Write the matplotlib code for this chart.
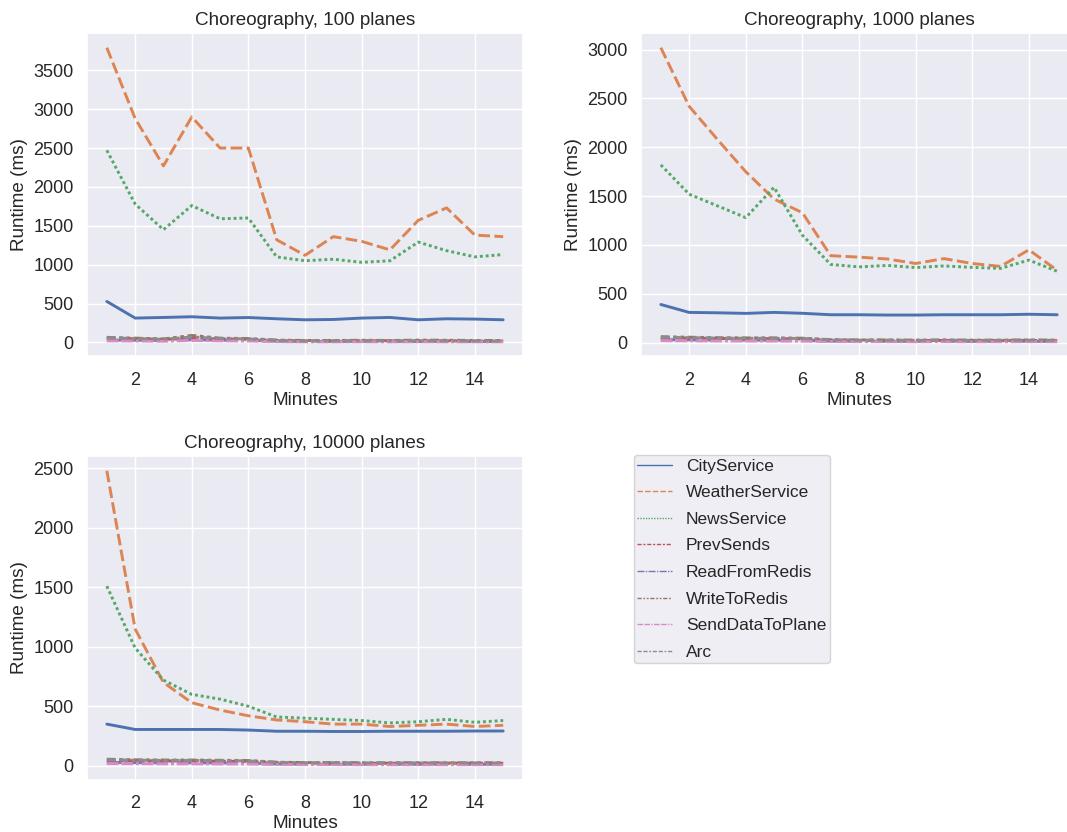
import matplotlib
matplotlib.use("Agg")
import matplotlib.pyplot as plt
from matplotlib.lines import Line2D
from matplotlib.ticker import MultipleLocator
import seaborn as sns

sns.set_theme(style="darkgrid")
plt.rcParams['font.family'] = ['Liberation Sans', 'DejaVu Sans']

minutes = list(range(1, 16))
series_names = ["CityService", "WeatherService", "NewsService", "PrevSends",
                "ReadFromRedis", "WriteToRedis", "SendDataToPlane", "Arc"]

titles = ["Choreography, 100 planes", "Choreography, 1000 planes",
          "Choreography, 10000 planes"]

# ---- 100 planes ----
p100_city = [527, 313, 321, 330, 313, 320, 304, 291, 295, 313, 321, 291, 304, 300, 291]
p100_weather = [3790, 2880, 2270, 2900, 2500, 2500, 1320, 1120, 1360, 1300, 1190, 1570, 1730, 1380, 1360]
p100_news = [2470, 1780, 1450, 1760, 1590, 1600, 1100, 1050, 1070, 1030, 1050, 1290, 1180, 1100, 1130]
p100_prev = [55, 45, 40, 50, 45, 40, 25, 20, 20, 20, 22, 20, 20, 18, 18]
p100_read = [30, 28, 25, 35, 30, 28, 15, 12, 12, 14, 12, 12, 12, 12, 12]
p100_write = [65, 55, 45, 90, 55, 50, 30, 25, 25, 28, 25, 30, 28, 25, 25]
p100_send = [20, 18, 15, 25, 20, 18, 10, 8, 8, 9, 8, 9, 8, 8, 8]
p100_arc = [60, 50, 40, 70, 50, 45, 25, 18, 20, 22, 20, 22, 20, 20, 18]

# ---- 1000 planes ----
p1000_city = [390, 309, 305, 299, 309, 300, 285, 285, 282, 282, 285, 285, 285, 290, 285]
p1000_weather = [3020, 2420, 2080, 1750, 1470, 1330, 890, 875, 856, 810, 860, 810, 780, 950, 740]
p1000_news = [1820, 1520, 1400, 1280, 1590, 1100, 800, 775, 790, 768, 785, 770, 760, 845, 730]
p1000_prev = [50, 45, 42, 40, 40, 38, 25, 22, 22, 20, 22, 20, 20, 22, 20]
p1000_read = [30, 28, 26, 25, 25, 24, 15, 13, 13, 12, 13, 12, 12, 13, 12]
p1000_write = [60, 55, 50, 48, 48, 45, 30, 27, 27, 25, 27, 25, 25, 27, 25]
p1000_send = [20, 18, 17, 16, 16, 15, 10, 9, 9, 8, 9, 8, 8, 9, 8]
p1000_arc = [55, 50, 46, 44, 44, 42, 28, 25, 25, 23, 25, 23, 23, 25, 23]

# ---- 10000 planes ----
p10000_city = [350, 305, 305, 305, 305, 300, 290, 290, 288, 288, 290, 290, 290, 292, 292]
p10000_weather = [2480, 1150, 700, 530, 468, 420, 385, 370, 350, 350, 330, 340, 350, 330, 340]
p10000_news = [1510, 990, 720, 600, 560, 500, 410, 400, 390, 380, 360, 370, 390, 365, 380]
p10000_prev = [45, 42, 40, 40, 38, 36, 25, 22, 22, 21, 21, 21, 21, 21, 21]
p10000_read = [28, 26, 25, 25, 24, 23, 15, 13, 13, 12, 12, 12, 12, 12, 12]
p10000_write = [55, 50, 48, 48, 46, 44, 30, 27, 27, 25, 25, 25, 25, 25, 25]
p10000_send = [18, 17, 16, 16, 15, 15, 10, 9, 9, 8, 8, 8, 8, 8, 8]
p10000_arc = [50, 47, 45, 45, 43, 41, 28, 25, 25, 23, 23, 23, 23, 23, 23]

datasets = [
    [p100_city, p100_weather, p100_news, p100_prev, p100_read, p100_write, p100_send, p100_arc],
    [p1000_city, p1000_weather, p1000_news, p1000_prev, p1000_read, p1000_write, p1000_send, p1000_arc],
    [p10000_city, p10000_weather, p10000_news, p10000_prev, p10000_read, p10000_write, p10000_send, p10000_arc],
]

colors = sns.color_palette("deep", 8)
dash_styles = [None, (4, 1.5), (1, 1), (3, 1.25, 1.5, 1.25), (5, 1, 1, 1),
               (3, 1.25, 1.25, 1.25, 1.25, 1.25), (4, 1, 4, 1, 1, 1),
               (3, 1.25, 3, 1.25, 1.25, 1.25)]

W, H = 1067, 832
fig = plt.figure(figsize=(W / 100, H / 100), dpi=100)

def px_axes(left, top, width, height):
    return fig.add_axes([left / W, 1 - (top + height) / H, width / W, height / H])

axes = [px_axes(87, 33, 436, 323.5), px_axes(641, 33, 436, 323.5), px_axes(87, 456, 436, 323.5)]

FS = 13.6
for ax, data, title in zip(axes, datasets, titles):
    for name, vals, col, ds in zip(series_names, data, colors, dash_styles):
        if ds is None:
            ax.plot(minutes, vals, color=col, lw=2.1, linestyle='-', label=name)
        else:
            ax.plot(minutes, vals, color=col, lw=2.1, dashes=ds, label=name)
    ax.set_title(title, fontsize=FS)
    ax.set_xlabel("Minutes", fontsize=FS, labelpad=2)
    ax.set_ylabel("Runtime (ms)", fontsize=FS)
    ax.tick_params(labelsize=FS - 0.6)
    ax.tick_params(axis='x', pad=5.5)
    ax.set_xticks([2, 4, 6, 8, 10, 12, 14])
    ax.yaxis.set_major_locator(MultipleLocator(500))

handles = []
for name, col, ds in zip(series_names, colors, dash_styles):
    if ds is None:
        h = Line2D([0], [0], color=col, lw=1.0, linestyle='-')
    else:
        h = Line2D([0], [0], color=col, lw=1.0, dashes=ds)
    handles.append(h)

fig.legend(handles, series_names, loc='upper left',
           bbox_to_anchor=(634 / W, 1 - 455 / H), borderaxespad=0,
           fontsize=12.5, frameon=True, borderpad=0.2, labelspacing=0.66,
           handlelength=2.0, handletextpad=0.8)

fig.savefig("out.png", dpi=100)
